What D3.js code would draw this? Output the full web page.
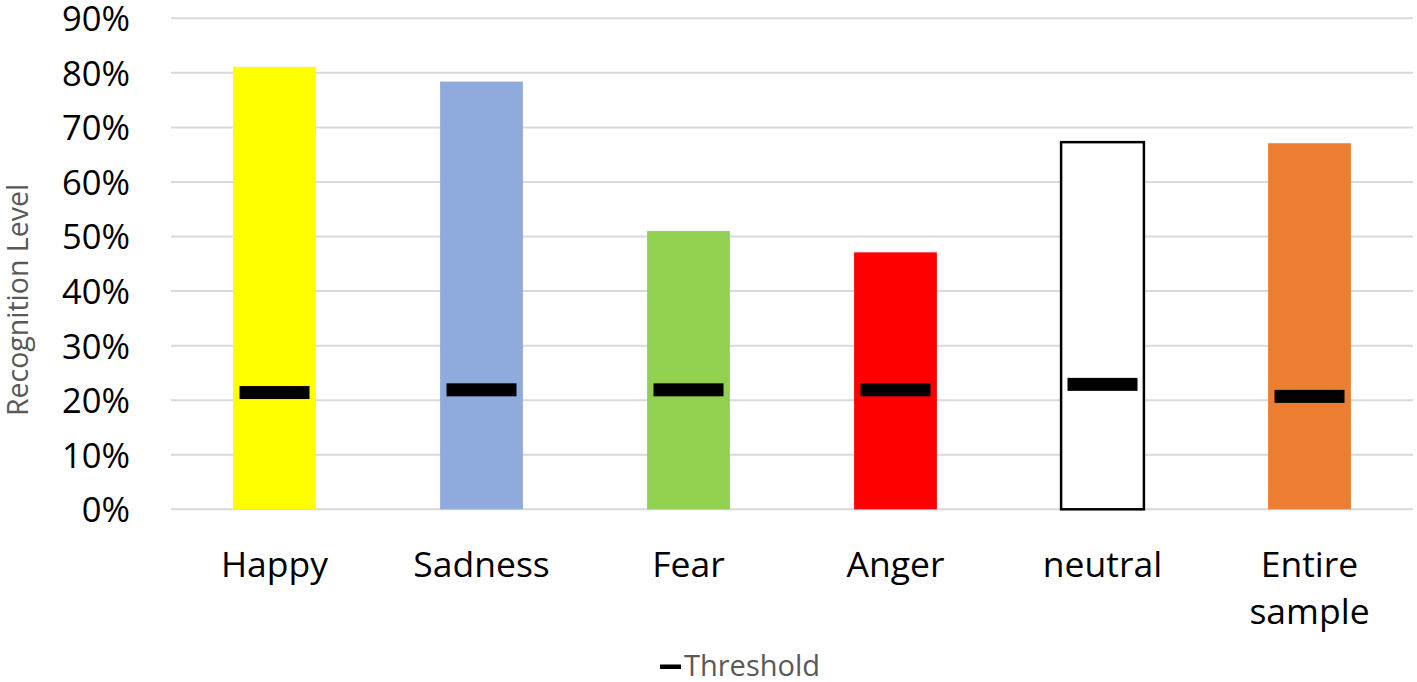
<!DOCTYPE html>
<html><head><meta charset="utf-8">
<script src="https://cdn.jsdelivr.net/npm/d3@7"></script>
<style>body{margin:0;background:#fff}svg{display:block}text{font-family:"Open Sans",sans-serif}</style>
</head><body><svg id="c" width="1417" height="682"></svg>
<script>
const categories = ["Happy","Sadness","Fear","Anger","neutral","Entire sample"];
const recognition = [0.811,0.784,0.510,0.471,0.673,0.671];
const threshold = [0.214,0.219,0.219,0.219,0.229,0.207];
const barColors = ["#FFFF00","#8FAADC","#92D050","#FF0000","#FFFFFF","#ED7D31"];
const yTicks = [0,0.1,0.2,0.3,0.4,0.5,0.6,0.7,0.8,0.9];

const svg = d3.select("#c");
const m = {left:171,right:1413,top:18.3,bottom:509.3};
const x = d3.scaleBand().domain(categories).range([m.left,m.right]).paddingInner(0.6).paddingOuter(0.3);
const y = d3.scaleLinear().domain([0,0.9]).range([m.bottom,m.top]);

// gridlines
svg.append("g").selectAll("line").data(yTicks).join("line")
  .attr("x1",m.left).attr("x2",m.right)
  .attr("y1",d=>y(d)).attr("y2",d=>y(d))
  .attr("stroke","#D9D9D9").attr("stroke-width",2);

// y axis labels
const yAxis = d3.axisLeft(y).tickValues(yTicks).tickFormat(d3.format(".0%")).tickSize(0).tickPadding(0);
const ya = svg.append("g").attr("transform","translate(130,0)").call(yAxis);
ya.select(".domain").remove();
ya.selectAll("text").attr("font-size",34.5).attr("fill","#000").attr("font-family","Open Sans").attr("dy","0.36em");

// bars
svg.append("g").selectAll("rect").data(categories).join("rect")
  .attr("x",(d)=>x(d)).attr("width",x.bandwidth())
  .attr("y",(d,i)=>y(recognition[i])).attr("height",(d,i)=>y(0)-y(recognition[i]))
  .attr("fill",(d,i)=>barColors[i])
  .attr("stroke",(d,i)=>barColors[i]==="#FFFFFF"?"#000":"none")
  .attr("stroke-width",2.5);

// threshold markers
const mw = 70, mh = 13;
svg.append("g").selectAll("rect").data(categories).join("rect")
  .attr("x",d=>x(d)+x.bandwidth()/2-mw/2).attr("width",mw)
  .attr("y",(d,i)=>y(threshold[i])-mh/2).attr("height",mh)
  .attr("fill","#000");

// x labels
const xl = svg.append("g").selectAll("text").data(categories).join("text")
  .attr("x",d=>x(d)+x.bandwidth()/2).attr("y",577)
  .attr("text-anchor","middle").attr("font-size",35.5).attr("fill","#000");
xl.each(function(d){
  const words = d.split(" ");
  const t = d3.select(this);
  words.forEach((w,k)=>t.append("tspan").attr("x",t.attr("x")).attr("dy",k?47:0).text(w));
});

// y title
svg.append("text").attr("transform","translate(28,300) rotate(-90)")
  .attr("text-anchor","middle").attr("font-size",28.5).attr("fill","#595959").text("Recognition Level");

// legend
svg.append("rect").attr("x",660).attr("y",664.5).attr("width",21).attr("height",4.5).attr("fill","#000");
svg.append("text").attr("x",684).attr("y",675.5).attr("font-size",29).attr("fill","#595959").text("Threshold");
</script></body></html>
